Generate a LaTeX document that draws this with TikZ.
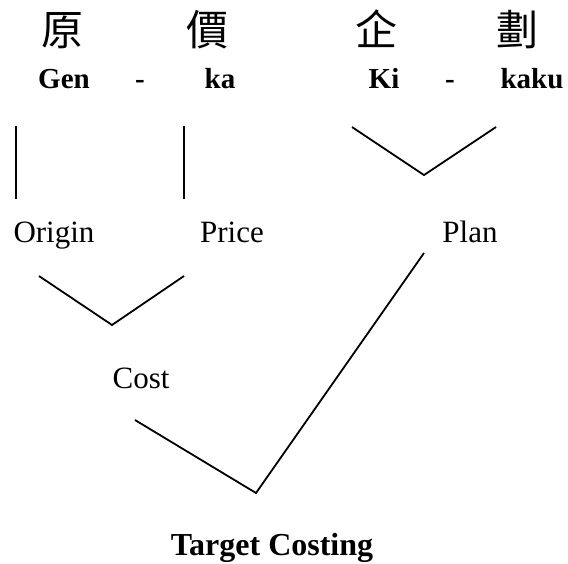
\documentclass[tikz,border=0pt]{standalone}
\usepackage{fontspec}
\setmainfont{Liberation Serif}
\newfontfamily\cjk{Noto Sans CJK TC}
\begin{document}
\begin{tikzpicture}[x=1pt,y=-1pt,line width=1.8pt,
    kanji/.style={anchor=base,inner sep=0pt,font=\cjk\fontsize{42}{42}\selectfont},
    romaji/.style={anchor=base,inner sep=0pt,font=\fontsize{29}{29}\selectfont\bfseries},
    word/.style={anchor=base,inner sep=0pt,font=\fontsize{31}{31}\selectfont}]
  \useasboundingbox (0,0) rectangle (568,563);
  % characters and readings
  \foreach \name/\x/\t in {hara/62/原, atai/207/價, kuwa/376/企, kaku/517/劃}{
    \node[kanji] (\name) at (\x,45) {\t}; }
  \foreach \name/\x/\t in {gen/64/Gen, dashgen/140/-, ka/220/ka, ki/384/Ki, dashki/450/-, kk/532/kaku}{
    \node[romaji] (r\name) at (\x,88) {\t}; }
  % meanings
  \node[word] (origin) at (54,242) {Origin};
  \node[word] (price) at (232,242) {Price};
  \node[word] (plan) at (470,242) {Plan};
  \node[word] (cost) at (141,388) {Cost};
  \node[anchor=base,inner sep=0pt,font=\fontsize{32}{32}\selectfont\bfseries] (target) at (272,555) {Target Costing};
  % line ends
  \coordinate (a1) at (16,126);  \coordinate (a2) at (16,199);
  \coordinate (b1) at (184,126); \coordinate (b2) at (184,199);
  \coordinate (c1) at (352,127); \coordinate (c2) at (424,175); \coordinate (c3) at (496,127);
  \coordinate (d1) at (39,276);  \coordinate (d2) at (112,325); \coordinate (d3) at (184,276);
  \coordinate (e1) at (135,420); \coordinate (e2) at (256,493); \coordinate (e3) at (424,253);
  \draw (a1) -- (a2);
  \draw (b1) -- (b2);
  \draw (c1) -- (c2) -- (c3);
  \draw (d1) -- (d2) -- (d3);
  \draw (e1) -- (e2) -- (e3);
\end{tikzpicture}
\end{document}
